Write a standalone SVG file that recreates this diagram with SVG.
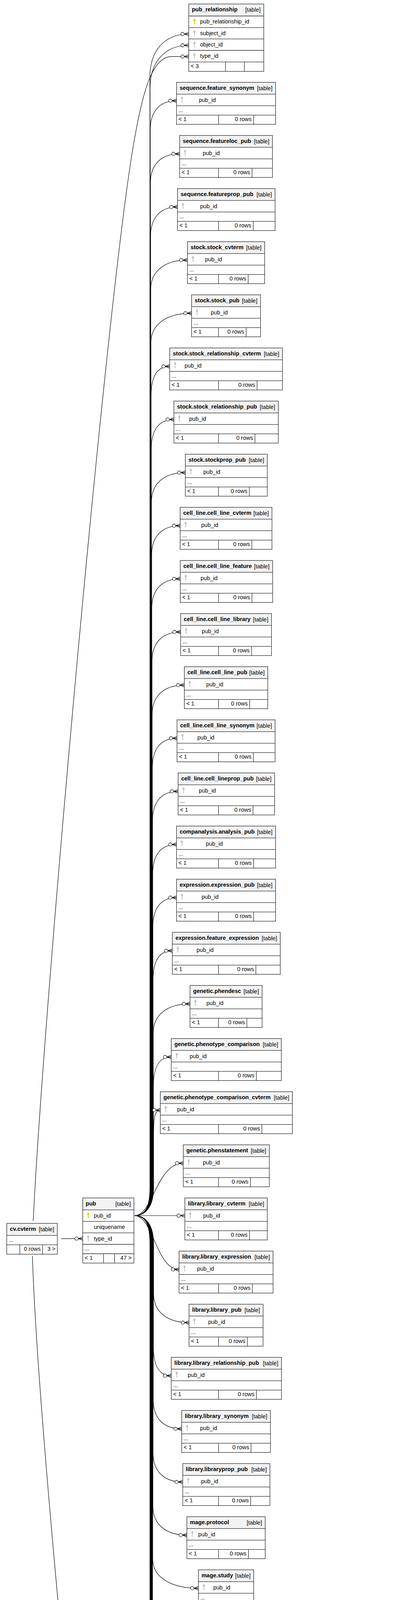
<svg xmlns="http://www.w3.org/2000/svg" xmlns:xlink="http://www.w3.org/1999/xlink" width="1039" height="6668" viewBox="0 0 1039 6668">
<style>
text{font-family:"Liberation Sans",Arial,sans-serif;font-size:14.5px;fill:#000}
.n{font-weight:bold}
.t,.e{text-anchor:end}
.h{fill:#f3f3f3}
.o{fill:none;stroke:#2a2a2a;stroke-width:1.3}
.pk{fill:#dada00}
.fk{fill:#c4c4c4}
.c{fill:none;stroke:#000;stroke-width:1.2}
.m{marker-end:url(#cr)}
</style>
<defs>
<g id="k"><ellipse cx="0" cy="3.4" rx="2.7" ry="3.4"/><path d="M-0.95 6h1.9v9h-1.9z"/><path d="M0.9 12h1.4v1.4h-1.4z"/></g>
<marker id="cr" markerUnits="userSpaceOnUse" markerWidth="24" markerHeight="14" viewBox="-22 -7 24 14" refX="0" refY="0" orient="auto" overflow="visible">
<path d="M-11.3 0L0 -4.5M-11.3 0L0 4.5M-11.3 0H0" fill="none" stroke="#000" stroke-width="1.2"/>
<circle cx="-15.8" cy="0" r="4.3" fill="#fff" stroke="#000" stroke-width="1.2"/>
</marker>
</defs>
<rect width="1039" height="6668" fill="#fff"/>

<g id="connectors">
<path class="c m" d="M344 3112C372 3112 383.6 3090 383.6 3040L383.6 197C383.6 132 419.3 87 483 87"/>
<path class="c m" d="M344 3112C372 3112 384 3090 384 3040L384 226C384 161 419.5 116 483 116"/>
<path class="c m" d="M85 3126C110 2600 270 800 340 380C365 230 390 144.7 440 144.7L483 144.7"/>
<path class="c m" d="M344 3112C372 3112 384.5 3090 384.5 3040L384.5 332.9C384.5 287.9 405.7 257.9 451.7 257.9"/>
<path class="c m" d="M344 3112C372 3112 384.9 3090 384.9 3040L384.9 468.9C384.9 423.9 409.6 393.9 459.7 393.9"/>
<path class="c m" d="M344 3112C372 3112 385.4 3090 385.4 3040L385.4 604.9C385.4 559.9 407.4 529.9 454.3 529.9"/>
<path class="c m" d="M344 3112C372 3112 385.8 3090 385.8 3040L385.8 740.9C385.8 695.9 419.1 665.9 479.7 665.9"/>
<path class="c m" d="M344 3112C372 3112 386.3 3090 386.3 3040L386.3 876.9C386.3 831.9 424.1 801.9 490.3 801.9"/>
<path class="c m" d="M344 3112C372 3112 386.7 3090 386.7 3040L386.7 1012.9C386.7 967.9 399.1 937.9 434.3 937.9"/>
<path class="c m" d="M344 3112C372 3112 387.2 3090 387.2 3040L387.2 1148.9C387.2 1103.9 404.2 1073.9 445 1073.9"/>
<path class="c m" d="M344 3112C372 3112 387.6 3090 387.6 3040L387.6 1284.9C387.6 1239.9 417.6 1209.9 474.3 1209.9"/>
<path class="c m" d="M344 3112C372 3112 388.1 3090 388.1 3040L388.1 1420.9C388.1 1375.9 411.9 1345.9 461 1345.9"/>
<path class="c m" d="M344 3112C372 3112 388.5 3090 388.5 3040L388.5 1556.9C388.5 1511.9 412.3 1481.9 461.3 1481.9"/>
<path class="c m" d="M344 3112C372 3112 389 3090 389 3040L389 1692.9C389 1647.9 413 1617.9 462.3 1617.9"/>
<path class="c m" d="M344 3112C372 3112 389.4 3090 389.4 3040L389.4 1828.9C389.4 1783.9 417.4 1753.9 471.7 1753.9"/>
<path class="c m" d="M344 3112C372 3112 389.9 3090 389.9 3040L389.9 1964.9C389.9 1919.9 409.3 1889.9 453 1889.9"/>
<path class="c m" d="M344 3112C372 3112 390.3 3090 390.3 3040L390.3 2100.9C390.3 2055.9 410.7 2025.9 455.7 2025.9"/>
<path class="c m" d="M344 3112C372 3112 390.8 3090 390.8 3040L390.8 2236.9C390.8 2191.9 409.2 2161.9 451.7 2161.9"/>
<path class="c m" d="M344 3112C372 3112 391.2 3090 391.2 3040L391.2 2372.9C391.2 2327.9 409.4 2297.9 451.7 2297.9"/>
<path class="c m" d="M344 3112C372 3112 391.7 3090 391.7 3040L391.7 2508.9C391.7 2463.9 404.9 2433.9 441 2433.9"/>
<path class="c m" d="M344 3112C372 3112 392.1 3090 392.1 3040L392.1 2644.9C392.1 2599.9 425.5 2569.9 486.3 2569.9"/>
<path class="c m" d="M344 3112C372 3112 392.6 3090 392.6 3040L392.6 2780.9C392.6 2735.9 404.2 2705.9 438.3 2705.9"/>
<path class="c m" d="M344 3112C372 3112 393 3090 393 3040L393 2916.9C393 2870 393 2841.9 410.3 2841.9"/>
<path class="c m" d="M344 3112C392 3112 400 2977.9 469 2977.9"/>
<path class="c m" d="M344 3112L473 3112"/>
<path class="c m" d="M344 3112C392 3112 400 3249.9 458.3 3249.9"/>
<path class="c m" d="M344 3112C372 3112 393 3134 393 3184L393 3310.9C393 3355.9 424.8 3385.9 483.7 3385.9"/>
<path class="c m" d="M344 3112C372 3112 392.6 3134 392.6 3184L392.6 3446.9C392.6 3491.9 404.2 3521.9 438.3 3521.9"/>
<path class="c m" d="M344 3112C372 3112 392.1 3134 392.1 3184L392.1 3582.9C392.1 3627.9 415.9 3657.9 465 3657.9"/>
<path class="c m" d="M344 3112C372 3112 391.7 3134 391.7 3184L391.7 3718.9C391.7 3763.9 416.9 3793.9 467.7 3793.9"/>
<path class="c m" d="M344 3112C372 3112 391.2 3134 391.2 3184L391.2 3854.9C391.2 3899.9 421.4 3929.9 478.3 3929.9"/>
<path class="c m" d="M344 3112C372 3112 390.8 3134 390.8 3184L390.8 3990.9C390.8 4035.9 434.4 4065.9 507.7 4065.9"/>
<path class="c m" d="M344 3112C372 3112 390.3 3134 390.3 3184L390.3 4126.9C390.3 4171.9 419.1 4201.9 474.3 4201.9"/>
<path class="c m" d="M344 3112C372 3112 389.9 3134 389.9 3184L389.9 4262.9C389.9 4307.9 393.7 4337.9 418.3 4337.9"/>
<path class="c m" d="M344 3112C372 3112 389.4 3134 389.4 3184L389.4 4505.9C389.4 4550.9 408.4 4580.9 451.7 4580.9"/>
<path class="c m" d="M344 3112C372 3112 389 3134 389 3184L389 4641.9C389 4686.9 413 4716.9 462.3 4716.9"/>
<path class="c m" d="M344 3112C372 3112 388.5 3134 388.5 3184L388.5 4777.9C388.5 4822.9 405.5 4852.9 446.3 4852.9"/>
<path class="c m" d="M344 3112C372 3112 388.1 3134 388.1 3184L388.1 4913.9C388.1 4958.9 409.5 4988.9 455.7 4988.9"/>
<path class="c m" d="M344 3112C372 3112 387.6 3134 387.6 3184L387.6 5049.9C387.6 5094.9 411.1 5124.9 459.7 5124.9"/>
<path class="c m" d="M344 3112C372 3112 387.2 3134 387.2 3184L387.2 5185.9C387.2 5230.9 419.8 5260.9 479.7 5260.9"/>
<path class="c m" d="M344 3112C372 3112 386.7 3134 386.7 3184L386.7 5349.3C386.7 5394.3 432.7 5424.3 509 5424.3"/>
<path class="c m" d="M344 3112C372 3112 386.3 3134 386.3 3184L386.3 5516.9C386.3 5561.9 410.3 5591.9 459.7 5591.9"/>
<path class="c m" d="M344 3112C372 3112 385.8 3134 385.8 3184L385.8 5652.9C385.8 5697.9 402.2 5727.9 442.3 5727.9"/>
<path class="c m" d="M344 3112C372 3112 385.4 3134 385.4 3184L385.4 5788.9C385.4 5833.9 414.6 5863.9 470.3 5863.9"/>
<path class="c m" d="M344 3112C372 3112 384.9 3134 384.9 3184L384.9 5924.9C384.9 5969.9 393.9 5999.9 425 5999.9"/>
<path class="c m" d="M344 3112C372 3112 384.5 3134 384.5 3184L384.5 6060.9C384.5 6105.9 386.5 6135.9 409 6135.9"/>
<path class="c m" d="M344 3112C372 3112 384 3134 384 3184L384 6224C384 6269 435.5 6299 518.4 6299"/>
<path class="c m" d="M344 3112C372 3112 383.6 3134 383.6 3184L383.6 6448.9C383.6 6493.9 429.8 6523.9 506.3 6523.9"/>
<path class="c m" d="M156.7 3170.8L211.7 3170.8"/>
<path class="c m" d="M83 3215C100 3800 330 5900 364 6130C385 6260 440 6328.4 480 6328.4L518.4 6328.4"/>
<path class="c m" d="M352.4 6553.3L506.3 6553.3"/>
<path class="c m" d="M674 4473.6C720 4478 755 4494 770 4520C790 4555 778 4640 776 4700L773 4830C773 4875 775 4898 790 4906L815.7 4915"/>
<path class="c m" d="M648 5394.5C700 5393 740 5362 763 5333C786 5300 777 5230 776 5150L773 5000C773 4975 777 4962 790 4955L815.7 4946"/>
</g>

<g id="pub_relationship" transform="translate(483,10.3)">
<rect class="h" width="192" height="30.7"/><rect class="o" width="192" height="172.4"/>
<path class="o" d="M0 30.7H192M0 60.4H192M0 89.4H192M0 118.7H192M0 148.4H192M94 148.4V172.4M142.3 148.4V172.4"/>
<text class="n" x="8" y="19">pub_relationship</text><text class="t" x="184" y="20">[table]</text>
<use href="#k" class="pk" x="14.7" y="37.7"/><text x="29" y="50.2">pub_relationship_id</text>
<use href="#k" class="fk" x="14.7" y="67.4"/><text x="29" y="79.9">subject_id</text>
<use href="#k" class="fk" x="14.7" y="96.4"/><text x="29" y="108.9">object_id</text>
<use href="#k" class="fk" x="14.7" y="125.7"/><text x="29" y="138.2">type_id</text>
<text x="5" y="164">&lt; 3</text>
</g>

<g id="t2" transform="translate(451.7,210.7)"><rect class="h" width="253.6" height="30.4"/><rect class="o" width="253.6" height="107.6"/><path class="o" d="M0 30.4H253.6M0 60H253.6M0 84H253.6M107.5 84V107.6M197.4 84V107.6"/><text class="n" x="8" y="19">sequence.feature_synonym</text><text class="t" x="245.6" y="20">[table]</text><use href="#k" class="fk" x="14" y="37"/><text x="57" y="50">pub_id</text><text x="5" y="76">...</text><text x="5" y="99.6">&lt; 1</text><text class="e" x="192.4" y="99.6">0 rows</text></g>
<g id="t3" transform="translate(459.7,346.7)"><rect class="h" width="237.6" height="30.4"/><rect class="o" width="237.6" height="107.6"/><path class="o" d="M0 30.4H237.6M0 60H237.6M0 84H237.6M99.5 84V107.6M185.4 84V107.6"/><text class="n" x="8" y="19">sequence.featureloc_pub</text><text class="t" x="229.6" y="20">[table]</text><use href="#k" class="fk" x="14" y="37"/><text x="59" y="50">pub_id</text><text x="5" y="76">...</text><text x="5" y="99.6">&lt; 1</text><text class="e" x="180.4" y="99.6">0 rows</text></g>
<g id="t4" transform="translate(454.3,482.7)"><rect class="h" width="249.7" height="30.4"/><rect class="o" width="249.7" height="107.6"/><path class="o" d="M0 30.4H249.7M0 60H249.7M0 84H249.7M104.9 84V107.6M193.8 84V107.6"/><text class="n" x="8" y="19">sequence.featureprop_pub</text><text class="t" x="241.7" y="20">[table]</text><use href="#k" class="fk" x="14" y="37"/><text x="58" y="50">pub_id</text><text x="5" y="76">...</text><text x="5" y="99.6">&lt; 1</text><text class="e" x="188.8" y="99.6">0 rows</text></g>
<g id="t5" transform="translate(479.7,618.7)"><rect class="h" width="197.6" height="30.4"/><rect class="o" width="197.6" height="107.6"/><path class="o" d="M0 30.4H197.6M0 60H197.6M0 84H197.6M79.5 84V107.6M155.4 84V107.6"/><text class="n" x="8" y="19">stock.stock_cvterm</text><text class="t" x="189.6" y="20">[table]</text><use href="#k" class="fk" x="14" y="37"/><text x="45" y="50">pub_id</text><text x="5" y="76">...</text><text x="5" y="99.6">&lt; 1</text><text class="e" x="150.4" y="99.6">0 rows</text></g>
<g id="t6" transform="translate(490.3,754.7)"><rect class="h" width="176.4" height="30.4"/><rect class="o" width="176.4" height="107.6"/><path class="o" d="M0 30.4H176.4M0 60H176.4M0 84H176.4M68.9 84V107.6M139.5 84V107.6"/><text class="n" x="8" y="19">stock.stock_pub</text><text class="t" x="168.4" y="20">[table]</text><use href="#k" class="fk" x="14" y="37"/><text x="49" y="50">pub_id</text><text x="5" y="76">...</text><text x="5" y="99.6">&lt; 1</text><text class="e" x="134.5" y="99.6">0 rows</text></g>
<g id="t7" transform="translate(434.3,890.7)"><rect class="h" width="288.4" height="30.4"/><rect class="o" width="288.4" height="107.6"/><path class="o" d="M0 30.4H288.4M0 60H288.4M0 84H288.4M124.9 84V107.6M223.5 84V107.6"/><text class="n" x="8" y="19">stock.stock_relationship_cvterm</text><text class="t" x="280.4" y="20">[table]</text><use href="#k" class="fk" x="14" y="37"/><text x="38" y="50">pub_id</text><text x="5" y="76">...</text><text x="5" y="99.6">&lt; 1</text><text class="e" x="218.5" y="99.6">0 rows</text></g>
<g id="t8" transform="translate(445,1026.7)"><rect class="h" width="267.3" height="30.4"/><rect class="o" width="267.3" height="107.6"/><path class="o" d="M0 30.4H267.3M0 60H267.3M0 84H267.3M114.2 84V107.6M207.5 84V107.6"/><text class="n" x="8" y="19">stock.stock_relationship_pub</text><text class="t" x="259.3" y="20">[table]</text><use href="#k" class="fk" x="14" y="37"/><text x="39" y="50">pub_id</text><text x="5" y="76">...</text><text x="5" y="99.6">&lt; 1</text><text class="e" x="202.5" y="99.6">0 rows</text></g>
<g id="t9" transform="translate(474.3,1162.7)"><rect class="h" width="209.7" height="30.4"/><rect class="o" width="209.7" height="107.6"/><path class="o" d="M0 30.4H209.7M0 60H209.7M0 84H209.7M84.9 84V107.6M163.8 84V107.6"/><text class="n" x="8" y="19">stock.stockprop_pub</text><text class="t" x="201.7" y="20">[table]</text><use href="#k" class="fk" x="14" y="37"/><text x="46" y="50">pub_id</text><text x="5" y="76">...</text><text x="5" y="99.6">&lt; 1</text><text class="e" x="158.8" y="99.6">0 rows</text></g>
<g id="t10" transform="translate(461,1298.7)"><rect class="h" width="235" height="30.4"/><rect class="o" width="235" height="107.6"/><path class="o" d="M0 30.4H235M0 60H235M0 84H235M98.2 84V107.6M183.5 84V107.6"/><text class="n" x="8" y="19">cell_line.cell_line_cvterm</text><text class="t" x="227" y="20">[table]</text><use href="#k" class="fk" x="14" y="37"/><text x="54" y="50">pub_id</text><text x="5" y="76">...</text><text x="5" y="99.6">&lt; 1</text><text class="e" x="178.5" y="99.6">0 rows</text></g>
<g id="t11" transform="translate(461.3,1434.7)"><rect class="h" width="236.4" height="30.4"/><rect class="o" width="236.4" height="107.6"/><path class="o" d="M0 30.4H236.4M0 60H236.4M0 84H236.4M97.9 84V107.6M183.5 84V107.6"/><text class="n" x="8" y="19">cell_line.cell_line_feature</text><text class="t" x="228.4" y="20">[table]</text><use href="#k" class="fk" x="14" y="37"/><text x="52" y="50">pub_id</text><text x="5" y="76">...</text><text x="5" y="99.6">&lt; 1</text><text class="e" x="178.5" y="99.6">0 rows</text></g>
<g id="t12" transform="translate(462.3,1570.7)"><rect class="h" width="232.4" height="30.4"/><rect class="o" width="232.4" height="107.6"/><path class="o" d="M0 30.4H232.4M0 60H232.4M0 84H232.4M96.9 84V107.6M181.5 84V107.6"/><text class="n" x="8" y="19">cell_line.cell_line_library</text><text class="t" x="224.4" y="20">[table]</text><use href="#k" class="fk" x="14" y="37"/><text x="54" y="50">pub_id</text><text x="5" y="76">...</text><text x="5" y="99.6">&lt; 1</text><text class="e" x="176.5" y="99.6">0 rows</text></g>
<g id="t13" transform="translate(471.7,1706.7)"><rect class="h" width="213.6" height="30.4"/><rect class="o" width="213.6" height="107.6"/><path class="o" d="M0 30.4H213.6M0 60H213.6M0 84H213.6M87.5 84V107.6M167.4 84V107.6"/><text class="n" x="8" y="19">cell_line.cell_line_pub</text><text class="t" x="205.6" y="20">[table]</text><use href="#k" class="fk" x="14" y="37"/><text x="56" y="50">pub_id</text><text x="5" y="76">...</text><text x="5" y="99.6">&lt; 1</text><text class="e" x="162.4" y="99.6">0 rows</text></g>
<g id="t14" transform="translate(453,1842.7)"><rect class="h" width="251" height="30.4"/><rect class="o" width="251" height="107.6"/><path class="o" d="M0 30.4H251M0 60H251M0 84H251M106.2 84V107.6M195.5 84V107.6"/><text class="n" x="8" y="19">cell_line.cell_line_synonym</text><text class="t" x="243" y="20">[table]</text><use href="#k" class="fk" x="14" y="37"/><text x="52" y="50">pub_id</text><text x="5" y="76">...</text><text x="5" y="99.6">&lt; 1</text><text class="e" x="190.5" y="99.6">0 rows</text></g>
<g id="t15" transform="translate(455.7,1978.7)"><rect class="h" width="247" height="30.4"/><rect class="o" width="247" height="107.6"/><path class="o" d="M0 30.4H247M0 60H247M0 84H247M103.5 84V107.6M191.8 84V107.6"/><text class="n" x="8" y="19">cell_line.cell_lineprop_pub</text><text class="t" x="239" y="20">[table]</text><use href="#k" class="fk" x="14" y="37"/><text x="53" y="50">pub_id</text><text x="5" y="76">...</text><text x="5" y="99.6">&lt; 1</text><text class="e" x="186.8" y="99.6">0 rows</text></g>
<g id="t16" transform="translate(451.7,2114.7)"><rect class="h" width="253.6" height="30.4"/><rect class="o" width="253.6" height="107.6"/><path class="o" d="M0 30.4H253.6M0 60H253.6M0 84H253.6M107.5 84V107.6M197.4 84V107.6"/><text class="n" x="8" y="19">companalysis.analysis_pub</text><text class="t" x="245.6" y="20">[table]</text><use href="#k" class="fk" x="14" y="37"/><text x="75" y="50">pub_id</text><text x="5" y="76">...</text><text x="5" y="99.6">&lt; 1</text><text class="e" x="192.4" y="99.6">0 rows</text></g>
<g id="t17" transform="translate(451.7,2250.7)"><rect class="h" width="253.6" height="30.4"/><rect class="o" width="253.6" height="107.6"/><path class="o" d="M0 30.4H253.6M0 60H253.6M0 84H253.6M107.5 84V107.6M197.4 84V107.6"/><text class="n" x="8" y="19">expression.expression_pub</text><text class="t" x="245.6" y="20">[table]</text><use href="#k" class="fk" x="14" y="37"/><text x="64" y="50">pub_id</text><text x="5" y="76">...</text><text x="5" y="99.6">&lt; 1</text><text class="e" x="192.4" y="99.6">0 rows</text></g>
<g id="t18" transform="translate(441,2386.7)"><rect class="h" width="276.3" height="30.4"/><rect class="o" width="276.3" height="107.6"/><path class="o" d="M0 30.4H276.3M0 60H276.3M0 84H276.3M118.2 84V107.6M213.8 84V107.6"/><text class="n" x="8" y="19">expression.feature_expression</text><text class="t" x="268.3" y="20">[table]</text><use href="#k" class="fk" x="14" y="37"/><text x="62" y="50">pub_id</text><text x="5" y="76">...</text><text x="5" y="99.6">&lt; 1</text><text class="e" x="208.8" y="99.6">0 rows</text></g>
<g id="t19" transform="translate(486.3,2522.7)"><rect class="h" width="184.4" height="30.4"/><rect class="o" width="184.4" height="107.6"/><path class="o" d="M0 30.4H184.4M0 60H184.4M0 84H184.4M72.9 84V107.6M145.5 84V107.6"/><text class="n" x="8" y="19">genetic.phendesc</text><text class="t" x="176.4" y="20">[table]</text><use href="#k" class="fk" x="14" y="37"/><text x="42" y="50">pub_id</text><text x="5" y="76">...</text><text x="5" y="99.6">&lt; 1</text><text class="e" x="140.5" y="99.6">0 rows</text></g>
<g id="t20" transform="translate(438.3,2658.7)"><rect class="h" width="281.7" height="30.4"/><rect class="o" width="281.7" height="107.6"/><path class="o" d="M0 30.4H281.7M0 60H281.7M0 84H281.7M120.9 84V107.6M217.8 84V107.6"/><text class="n" x="8" y="19">genetic.phenotype_comparison</text><text class="t" x="273.7" y="20">[table]</text><use href="#k" class="fk" x="14" y="37"/><text x="47" y="50">pub_id</text><text x="5" y="76">...</text><text x="5" y="99.6">&lt; 1</text><text class="e" x="212.8" y="99.6">0 rows</text></g>
<g id="t21" transform="translate(410.3,2794.7)"><rect class="h" width="338" height="30.4"/><rect class="o" width="338" height="107.6"/><path class="o" d="M0 30.4H338M0 60H338M0 84H338M148.9 84V107.6M259.9 84V107.6"/><text class="n" x="8" y="19">genetic.phenotype_comparison_cvterm</text><text class="t" x="330" y="20">[table]</text><use href="#k" class="fk" x="14" y="37"/><text x="43" y="50">pub_id</text><text x="5" y="76">...</text><text x="5" y="99.6">&lt; 1</text><text class="e" x="254.9" y="99.6">0 rows</text></g>
<g id="t22" transform="translate(469,2930.7)"><rect class="h" width="220.3" height="30.4"/><rect class="o" width="220.3" height="107.6"/><path class="o" d="M0 30.4H220.3M0 60H220.3M0 84H220.3M90.2 84V107.6M171.8 84V107.6"/><text class="n" x="8" y="19">genetic.phenstatement</text><text class="t" x="212.3" y="20">[table]</text><use href="#k" class="fk" x="14" y="37"/><text x="50" y="50">pub_id</text><text x="5" y="76">...</text><text x="5" y="99.6">&lt; 1</text><text class="e" x="166.8" y="99.6">0 rows</text></g>
<g id="t23" transform="translate(473,3066.7)"><rect class="h" width="211" height="30.4"/><rect class="o" width="211" height="107.6"/><path class="o" d="M0 30.4H211M0 60H211M0 84H211M86.2 84V107.6M165.5 84V107.6"/><text class="n" x="8" y="19">library.library_cvterm</text><text class="t" x="203" y="20">[table]</text><use href="#k" class="fk" x="14" y="37"/><text x="47" y="50">pub_id</text><text x="5" y="76">...</text><text x="5" y="99.6">&lt; 1</text><text class="e" x="160.5" y="99.6">0 rows</text></g>
<g id="t24" transform="translate(458.3,3202.7)"><rect class="h" width="240.4" height="30.4"/><rect class="o" width="240.4" height="107.6"/><path class="o" d="M0 30.4H240.4M0 60H240.4M0 84H240.4M100.9 84V107.6M187.5 84V107.6"/><text class="n" x="8" y="19">library.library_expression</text><text class="t" x="232.4" y="20">[table]</text><use href="#k" class="fk" x="14" y="37"/><text x="46" y="50">pub_id</text><text x="5" y="76">...</text><text x="5" y="99.6">&lt; 1</text><text class="e" x="182.5" y="99.6">0 rows</text></g>
<g id="t25" transform="translate(483.7,3338.7)"><rect class="h" width="189.6" height="30.4"/><rect class="o" width="189.6" height="107.6"/><path class="o" d="M0 30.4H189.6M0 60H189.6M0 84H189.6M75.5 84V107.6M149.4 84V107.6"/><text class="n" x="8" y="19">library.library_pub</text><text class="t" x="181.6" y="20">[table]</text><use href="#k" class="fk" x="14" y="37"/><text x="49" y="50">pub_id</text><text x="5" y="76">...</text><text x="5" y="99.6">&lt; 1</text><text class="e" x="144.4" y="99.6">0 rows</text></g>
<g id="t26" transform="translate(438.3,3474.7)"><rect class="h" width="282" height="30.4"/><rect class="o" width="282" height="107.6"/><path class="o" d="M0 30.4H282M0 60H282M0 84H282M120.9 84V107.6M217.9 84V107.6"/><text class="n" x="8" y="19">library.library_relationship_pub</text><text class="t" x="274" y="20">[table]</text><use href="#k" class="fk" x="14" y="37"/><text x="42" y="50">pub_id</text><text x="5" y="76">...</text><text x="5" y="99.6">&lt; 1</text><text class="e" x="212.9" y="99.6">0 rows</text></g>
<g id="t27" transform="translate(465,3610.7)"><rect class="h" width="227" height="30.4"/><rect class="o" width="227" height="107.6"/><path class="o" d="M0 30.4H227M0 60H227M0 84H227M94.2 84V107.6M177.5 84V107.6"/><text class="n" x="8" y="19">library.library_synonym</text><text class="t" x="219" y="20">[table]</text><use href="#k" class="fk" x="14" y="37"/><text x="47" y="50">pub_id</text><text x="5" y="76">...</text><text x="5" y="99.6">&lt; 1</text><text class="e" x="172.5" y="99.6">0 rows</text></g>
<g id="t28" transform="translate(467.7,3746.7)"><rect class="h" width="223" height="30.4"/><rect class="o" width="223" height="107.6"/><path class="o" d="M0 30.4H223M0 60H223M0 84H223M91.5 84V107.6M173.8 84V107.6"/><text class="n" x="8" y="19">library.libraryprop_pub</text><text class="t" x="215" y="20">[table]</text><use href="#k" class="fk" x="14" y="37"/><text x="47" y="50">pub_id</text><text x="5" y="76">...</text><text x="5" y="99.6">&lt; 1</text><text class="e" x="168.8" y="99.6">0 rows</text></g>
<g id="t29" transform="translate(478.3,3882.7)"><rect class="h" width="200.4" height="30.4"/><rect class="o" width="200.4" height="107.6"/><path class="o" d="M0 30.4H200.4M0 60H200.4M0 84H200.4M80.9 84V107.6M157.5 84V107.6"/><text class="n" x="8" y="19">mage.protocol</text><text class="t" x="192.4" y="20">[table]</text><use href="#k" class="fk" x="14" y="37"/><text x="29" y="50">pub_id</text><text x="5" y="76">...</text><text x="5" y="99.6">&lt; 1</text><text class="e" x="152.5" y="99.6">0 rows</text></g>
<g id="t30" transform="translate(507.7,4018.7)"><rect class="h" width="141.6" height="30.4"/><rect class="o" width="141.6" height="107.6"/><path class="o" d="M0 30.4H141.6M0 60H141.6M0 84H141.6M51.5 84V107.6M113.4 84V107.6"/><text class="n" x="8" y="19">mage.study</text><text class="t" x="133.6" y="20">[table]</text><use href="#k" class="fk" x="14" y="37"/><text x="38" y="50">pub_id</text><text x="5" y="76">...</text><text x="5" y="99.6">&lt; 1</text><text class="e" x="108.4" y="99.6">0 rows</text></g>
<g id="t31" transform="translate(474.3,4154.7)"><rect class="h" width="210" height="30.4"/><rect class="o" width="210" height="107.6"/><path class="o" d="M0 30.4H210M0 60H210M0 84H210M84.9 84V107.6M163.9 84V107.6"/><text class="n" x="8" y="19">map.featuremap_pub</text><text class="t" x="202" y="20">[table]</text><use href="#k" class="fk" x="14" y="37"/><text x="39" y="50">pub_id</text><text x="5" y="76">...</text><text x="5" y="99.6">&lt; 1</text><text class="e" x="158.9" y="99.6">0 rows</text></g>
<g id="t32" transform="translate(418.3,4290.7)"><rect class="h" width="321.7" height="30.4"/><rect class="o" width="321.7" height="107.6"/><path class="o" d="M0 30.4H321.7M0 60H321.7M0 84H321.7M140.9 84V107.6M247.8 84V107.6"/><text class="n" x="8" y="19">natural_diversity.nd_experiment_pub</text><text class="t" x="313.7" y="20">[table]</text><use href="#k" class="fk" x="14" y="37"/><text x="82" y="50">pub_id</text><text x="5" y="76">...</text><text x="5" y="99.6">&lt; 1</text><text class="e" x="242.8" y="99.6">0 rows</text></g>

<g id="contact.contact" transform="translate(494.3,4426.7)"><rect class="h" width="170" height="30.5"/><rect class="o" width="170" height="78.3"/><path class="o" d="M0 30.5H170M0 54.5H170M53.4 54.5V78.3M122.7 54.5V78.3"/><text class="n" x="8" y="19">contact.contact</text><text class="t" x="162" y="20">[table]</text><text x="5" y="46.5">...</text><text class="e" x="117.7" y="70">0 rows</text><text class="e" x="165" y="70">1 &gt;</text></g>

<g id="t34" transform="translate(451.7,4533.7)"><rect class="h" width="253.6" height="30.4"/><rect class="o" width="253.6" height="107.6"/><path class="o" d="M0 30.4H253.6M0 60H253.6M0 84H253.6M107.5 84V107.6M197.4 84V107.6"/><text class="n" x="8" y="19">organism.organism_cvterm</text><text class="t" x="245.6" y="20">[table]</text><use href="#k" class="fk" x="14" y="37"/><text x="57" y="50">pub_id</text><text x="5" y="76">...</text><text x="5" y="99.6">&lt; 1</text><text class="e" x="192.4" y="99.6">0 rows</text></g>
<g id="t35" transform="translate(462.3,4669.7)"><rect class="h" width="232.4" height="30.4"/><rect class="o" width="232.4" height="107.6"/><path class="o" d="M0 30.4H232.4M0 60H232.4M0 84H232.4M96.9 84V107.6M181.5 84V107.6"/><text class="n" x="8" y="19">organism.organism_pub</text><text class="t" x="224.4" y="20">[table]</text><use href="#k" class="fk" x="14" y="37"/><text x="59" y="50">pub_id</text><text x="5" y="76">...</text><text x="5" y="99.6">&lt; 1</text><text class="e" x="176.5" y="99.6">0 rows</text></g>
<g id="t36" transform="translate(446.3,4805.7)"><rect class="h" width="266" height="30.4"/><rect class="o" width="266" height="107.6"/><path class="o" d="M0 30.4H266M0 60H266M0 84H266M112.9 84V107.6M205.9 84V107.6"/><text class="n" x="8" y="19">organism.organismprop_pub</text><text class="t" x="258" y="20">[table]</text><use href="#k" class="fk" x="14" y="37"/><text x="57" y="50">pub_id</text><text x="5" y="76">...</text><text x="5" y="99.6">&lt; 1</text><text class="e" x="200.9" y="99.6">0 rows</text></g>
<g id="t37" transform="translate(455.7,4941.7)"><rect class="h" width="247" height="30.4"/><rect class="o" width="247" height="107.6"/><path class="o" d="M0 30.4H247M0 60H247M0 84H247M103.5 84V107.6M191.8 84V107.6"/><text class="n" x="8" y="19">phylogeny.phylonode_pub</text><text class="t" x="239" y="20">[table]</text><use href="#k" class="fk" x="14" y="37"/><text x="62" y="50">pub_id</text><text x="5" y="76">...</text><text x="5" y="99.6">&lt; 1</text><text class="e" x="186.8" y="99.6">0 rows</text></g>
<g id="t38" transform="translate(459.7,5077.7)"><rect class="h" width="239" height="30.4"/><rect class="o" width="239" height="107.6"/><path class="o" d="M0 30.4H239M0 60H239M0 84H239M99.5 84V107.6M185.8 84V107.6"/><text class="n" x="8" y="19">phylogeny.phylotree_pub</text><text class="t" x="231" y="20">[table]</text><use href="#k" class="fk" x="14" y="37"/><text x="62" y="50">pub_id</text><text x="5" y="76">...</text><text x="5" y="99.6">&lt; 1</text><text class="e" x="180.8" y="99.6">0 rows</text></g>
<g id="t39" transform="translate(479.7,5213.7)"><rect class="h" width="197.6" height="30.4"/><rect class="o" width="197.6" height="107.6"/><path class="o" d="M0 30.4H197.6M0 60H197.6M0 84H197.6M79.5 84V107.6M155.4 84V107.6"/><text class="n" x="8" y="19">project.project_pub</text><text class="t" x="189.6" y="20">[table]</text><use href="#k" class="fk" x="14" y="37"/><text x="52" y="50">pub_id</text><text x="5" y="76">...</text><text x="5" y="99.6">&lt; 1</text><text class="e" x="150.4" y="99.6">0 rows</text></g>

<g id="pubauthor" transform="translate(509,5349.7)"><rect class="h" width="139" height="30.5"/><rect class="o" width="139" height="166.7"/><path class="o" d="M0 30.5H139M0 59.9H139M0 89.3H139M0 118.7H139M0 142.7H139M61.7 142.7V166.7M93.7 142.7V166.7"/><text class="n" x="8" y="19">pubauthor</text><text class="t" x="131" y="20">[table]</text><use href="#k" class="pk" x="14" y="37.5"/><text x="28.3" y="50">pubauthor_id</text><use href="#k" class="fk" x="14" y="66.9"/><text x="28.3" y="79.4">pub_id</text><text x="28.3" y="108.8">rank</text><text x="5" y="134.7">...</text><text x="5" y="158.3">&lt; 1</text><text class="e" x="134" y="158.3">1 &gt;</text></g>

<g id="t41" transform="translate(459.7,5544.7)"><rect class="h" width="237.6" height="30.4"/><rect class="o" width="237.6" height="107.6"/><path class="o" d="M0 30.4H237.6M0 60H237.6M0 84H237.6M99.5 84V107.6M185.4 84V107.6"/><text class="n" x="8" y="19">sequence.feature_cvterm</text><text class="t" x="229.6" y="20">[table]</text><use href="#k" class="fk" x="14" y="37"/><text x="59" y="50">pub_id</text><text x="5" y="76">...</text><text x="5" y="99.6">&lt; 1</text><text class="e" x="180.4" y="99.6">0 rows</text></g>
<g id="t42" transform="translate(442.3,5680.7)"><rect class="h" width="272.4" height="30.4"/><rect class="o" width="272.4" height="107.6"/><path class="o" d="M0 30.4H272.4M0 60H272.4M0 84H272.4M116.9 84V107.6M211.5 84V107.6"/><text class="n" x="8" y="19">sequence.feature_cvterm_pub</text><text class="t" x="264.4" y="20">[table]</text><use href="#k" class="fk" x="14" y="37"/><text x="57" y="50">pub_id</text><text x="5" y="76">...</text><text x="5" y="99.6">&lt; 1</text><text class="e" x="206.5" y="99.6">0 rows</text></g>
<g id="t43" transform="translate(470.3,5816.7)"><rect class="h" width="216.4" height="30.4"/><rect class="o" width="216.4" height="107.6"/><path class="o" d="M0 30.4H216.4M0 60H216.4M0 84H216.4M88.9 84V107.6M169.5 84V107.6"/><text class="n" x="8" y="19">sequence.feature_pub</text><text class="t" x="208.4" y="20">[table]</text><use href="#k" class="fk" x="14" y="37"/><text x="61" y="50">pub_id</text><text x="5" y="76">...</text><text x="5" y="99.6">&lt; 1</text><text class="e" x="164.5" y="99.6">0 rows</text></g>
<g id="t44" transform="translate(425,5952.7)"><rect class="h" width="307.3" height="30.4"/><rect class="o" width="307.3" height="107.6"/><path class="o" d="M0 30.4H307.3M0 60H307.3M0 84H307.3M134.2 84V107.6M237.5 84V107.6"/><text class="n" x="8" y="19">sequence.feature_relationship_pub</text><text class="t" x="299.3" y="20">[table]</text><use href="#k" class="fk" x="14" y="37"/><text x="52" y="50">pub_id</text><text x="5" y="76">...</text><text x="5" y="99.6">&lt; 1</text><text class="e" x="232.5" y="99.6">0 rows</text></g>
<g id="t45" transform="translate(409,6088.7)"><rect class="h" width="340.7" height="30.4"/><rect class="o" width="340.7" height="107.6"/><path class="o" d="M0 30.4H340.7M0 60H340.7M0 84H340.7M150.2 84V107.6M261.9 84V107.6"/><text class="n" x="8" y="19">sequence.feature_relationshipprop_pub</text><text class="t" x="332.7" y="20">[table]</text><use href="#k" class="fk" x="14" y="37"/><text x="50" y="50">pub_id</text><text x="5" y="76">...</text><text x="5" y="99.6">&lt; 1</text><text class="e" x="256.9" y="99.6">0 rows</text></g>

<g id="pubprop" transform="translate(518.4,6224.4)"><rect class="h" width="122.4" height="30.5"/><rect class="o" width="122.4" height="196.1"/><path class="o" d="M0 30.5H122.4M0 59.9H122.4M0 89.3H122.4M0 118.7H122.4M0 148.1H122.4M0 172.1H122.4M58.3 172.1V196.1M89.9 172.1V196.1"/><text class="n" x="8" y="19">pubprop</text><text class="t" x="114.4" y="20">[table]</text><use href="#k" class="pk" x="13.6" y="37.5"/><text x="27.2" y="50">pubprop_id</text><use href="#k" class="fk" x="13.6" y="66.9"/><text x="27.2" y="79.4">pub_id</text><use href="#k" class="fk" x="13.6" y="96.3"/><text x="27.2" y="108.8">type_id</text><text x="27.2" y="138.2">rank</text><text x="5" y="164.1">...</text><text x="5" y="187.7">&lt; 2</text></g>

<g id="pub_dbxref" transform="translate(506.3,6449.3)"><rect class="h" width="146.7" height="30.5"/><rect class="o" width="146.7" height="166.7"/><path class="o" d="M0 30.5H146.7M0 59.9H146.7M0 89.3H146.7M0 118.7H146.7M0 142.7H146.7M70.4 142.7V166.7M107.7 142.7V166.7"/><text class="n" x="8" y="19">pub_dbxref</text><text class="t" x="138.7" y="20">[table]</text><use href="#k" class="pk" x="14" y="37.5"/><text x="27.7" y="50">pub_dbxref_id</text><use href="#k" class="fk" x="14" y="66.9"/><text x="27.7" y="79.4">pub_id</text><use href="#k" class="fk" x="14" y="96.3"/><text x="27.7" y="108.8">dbxref_id</text><text x="5" y="134.7">...</text><text x="5" y="158.3">&lt; 2</text></g>

<g id="pubauthor_contact" transform="translate(815.7,4842)"><rect class="h" width="207" height="30"/><rect class="o" width="207" height="142.2"/><path class="o" d="M0 30H207M0 59.4H207M0 88.8H207M0 118.2H207M101.3 118.2V142.2M153.3 118.2V142.2"/><text class="n" x="8" y="19">pubauthor_contact</text><text class="t" x="199" y="20">[table]</text><use href="#k" class="pk" x="14" y="37"/><text x="28.6" y="49.5">pubauthor_contact_id</text><use href="#k" class="fk" x="14" y="66.4"/><text x="28.6" y="78.9">contact_id</text><use href="#k" class="fk" x="14" y="95.8"/><text x="28.6" y="108.3">pubauthor_id</text><text x="5" y="133.8">&lt; 2</text></g>

<g id="pub" transform="translate(211.7,3066.7)"><rect class="h" width="131" height="30.6"/><rect class="o" width="131" height="166.8"/><path class="o" d="M0 30.6H131M0 60H131M0 89.4H131M0 118.8H131M0 142.8H131M53.3 142.8V166.8M81.6 142.8V166.8"/><text class="n" x="7.6" y="19">pub</text><text class="t" x="123" y="20">[table]</text><use href="#k" class="pk" x="14" y="37.6"/><text x="28.3" y="50.1">pub_id</text><text x="28.3" y="79.5">uniquename</text><use href="#k" class="fk" x="14" y="96.4"/><text x="28.3" y="108.9">type_id</text><text x="5" y="134.8">...</text><text x="5" y="158.4">&lt; 1</text><text class="e" x="125" y="158.4">47 &gt;</text></g>

<g id="cv.cvterm" transform="translate(17.3,3131.7)"><rect class="h" width="129.4" height="31"/><rect class="o" width="129.4" height="79"/><path class="o" d="M0 31H129.4M0 55H129.4M33.4 55V79M91.7 55V79"/><text class="n" x="8" y="19.5">cv.cvterm</text><text class="t" x="121.4" y="20.5">[table]</text><text x="5" y="47">...</text><text class="e" x="86.7" y="70.6">0 rows</text><text class="e" x="124.4" y="70.6">3 &gt;</text></g>

<g id="db.dbxref" transform="translate(213.6,6515.2)"><rect class="h" width="128.6" height="31"/><rect class="o" width="128.6" height="79.3"/><path class="o" d="M0 31H128.6M0 55.1H128.6M32 55.1V79.3M90.8 55.1V79.3"/><text class="n" x="8" y="19.5">db.dbxref</text><text class="t" x="120.6" y="20.5">[table]</text><text x="5" y="47">...</text><text class="e" x="85.8" y="70.7">0 rows</text><text class="e" x="123.6" y="70.7">1 &gt;</text></g>

<text x="17" y="6656">Generated by SchemaSpy</text>
</svg>
